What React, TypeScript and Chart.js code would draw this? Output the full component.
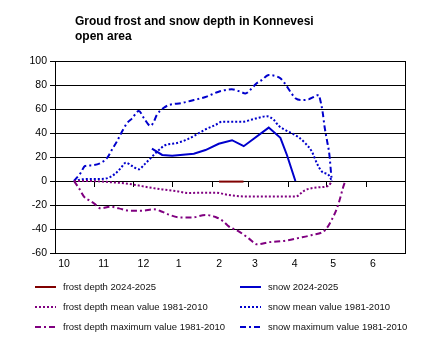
import React, { useEffect, useRef } from "react";
import { Chart, registerables } from "chart.js";

Chart.register(...registerables);

// x values are days counted from 1 October 2024
const TITLE_LINES = ["Groud frost and snow depth in Konnevesi", "open area"];
const MONTH_LABELS = ["10", "11", "12", "1", "2", "3", "4", "5", "6"];
const MONTH_LABEL_DAYS = [7, 38, 69, 96.5, 128, 156, 187, 217, 248];
const MONTH_START_DAYS = [0, 31, 61, 92, 123, 151, 182, 212, 243, 273];

const frostNowDay = [128, 133, 138, 143, 147];
const frostNowDepth = [-0.5, -0.5, -0.5, -0.5, -0.5];

const snowNowDay = [75.6, 83.6, 91.4, 108.3, 117.4, 127.7, 138.1, 147.2, 166.7, 175.8, 180.9, 187.5];
const snowNowDepth = [27, 21.7, 21, 22.8, 25.8, 31, 34, 29, 44.5, 36, 21.7, 0];

const frostMeanDay = [14.8, 29, 36.8, 43.4, 55.1, 62.9, 73.2, 83.6, 94, 104.4, 114.7, 125.2, 135.5, 151.1, 164.1, 187.5, 195.3, 205.6, 213.4, 216];
const frostMeanDepth = [0, 0, -0.5, -1, -2, -3.3, -5.3, -7, -8.3, -10, -9.7, -9.7, -11.7, -13, -13, -13, -7.5, -5.3, -4, 0];

const snowMeanDay = [14.8, 21.3, 29, 35.6, 42.1, 47.3, 51.2, 55.3, 60.2, 65.4, 69.3, 74.5, 81, 86.2, 94, 101.8, 109.6, 117.4, 125.2, 130.3, 145.9, 156.3, 165.3, 170.6, 174.5, 179.7, 184.8, 190, 195.3, 200.4, 204.3, 208.2, 213.4, 216];
const snowMeanDepth = [0, 1.4, 1.7, 1.7, 2.8, 6.4, 10.6, 15.3, 12.5, 9.7, 13.3, 19, 25.8, 30, 31.4, 34, 38.3, 43, 46.7, 49.4, 49.4, 52, 54, 51, 46, 42.5, 39.7, 36.4, 31.4, 24.4, 14.7, 7.8, 5, 0];

const frostMaxDay = [14.8, 18.7, 22.6, 26.5, 30.4, 35.6, 43.4, 49.8, 57.6, 68, 77.1, 83.6, 88.8, 96.6, 106.9, 117.4, 125.2, 131.6, 135.5, 143.3, 151.1, 157.6, 166.7, 179.7, 190, 200.4, 210.8, 216, 219.9, 222.5, 224.5, 226.4];
const frostMaxDepth = [0, -6, -13, -16, -18.6, -22.8, -21.4, -22.8, -24.7, -24.7, -23.6, -25.6, -28, -30.3, -30.4, -28.3, -30, -33.9, -37.8, -42, -47.8, -52.8, -51, -49.7, -47.5, -45, -40.8, -32, -22.8, -14, -6, 0];

const snowMaxDay = [14.8, 20, 23.4, 27.8, 35.6, 40.5, 44.4, 48.3, 52.2, 56.1, 60, 65.4, 69.3, 74.5, 77.1, 79.4, 84.9, 88.8, 98.9, 108.3, 117.4, 127.7, 137.9, 144.6, 148.5, 152.4, 157.3, 161.2, 166.7, 171.9, 175.8, 179.1, 183.6, 187.5, 192.4, 197.8, 201.7, 205.6, 206.9, 208.7, 210.3, 212.1, 213.9, 215.7, 216];
const snowMaxDepth = [0, 6.7, 12.5, 13, 15, 19, 26, 33, 41, 48, 52, 58.3, 52.5, 46, 49.4, 55, 61, 63.3, 65, 67.5, 70, 74.4, 76.4, 74.4, 73, 76, 81.5, 84, 88.3, 87.5, 85.6, 81.5, 74.4, 69, 67.5, 68, 70, 71.7, 67.5, 57.8, 45, 34, 23, 2.5, 0];

const pts = (xs: number[], ys: number[]) => xs.map((x, i) => ({ x, y: ys[i] }));

const FONT = '"Liberation Sans", Arial, sans-serif';
const DASH_DOT = [6, 3, 2, 3];
const DOT = [2, 2];

const titlePlugin = {
  id: "leftTitle",
  afterDraw(chart: any) {
    const ctx = chart.ctx;
    ctx.save();
    ctx.fillStyle = "#000";
    ctx.font = `bold 12px ${FONT}`;
    ctx.textBaseline = "alphabetic";
    ctx.textAlign = "left";
    ctx.fillText(TITLE_LINES[0], 75, 25);
    ctx.fillText(TITLE_LINES[1], 75, 40);
    ctx.restore();
  },
};

const legendPlugin = {
  id: "gridLegend",
  afterDraw(chart: any) {
    const ctx = chart.ctx;
    const colX = [35, 240];
    const rowY = [287, 307, 327];
    chart.data.datasets.forEach((ds: any, i: number) => {
      const x0 = colX[i % 2];
      const y = rowY[Math.floor(i / 2)];
      ctx.save();
      ctx.strokeStyle = ds.borderColor;
      ctx.lineWidth = 2;
      ctx.setLineDash(ds.borderDash || []);
      ctx.beginPath();
      ctx.moveTo(x0, y);
      ctx.lineTo(x0 + 21, y);
      ctx.stroke();
      ctx.setLineDash([]);
      ctx.fillStyle = "#111";
      ctx.font = `9.5px ${FONT}`;
      ctx.textBaseline = "middle";
      ctx.textAlign = "left";
      ctx.fillText(ds.label, x0 + 28, y);
      ctx.restore();
    });
  },
};

export default function App() {
  const ref = useRef<HTMLCanvasElement | null>(null);
  useEffect(() => {
    if (!ref.current) return;
    const common = {
      pointRadius: 0,
      pointHoverRadius: 0,
      borderWidth: 2,
      fill: false,
      xAxisID: "x",
      yAxisID: "y",
    };
    const chart = new Chart(ref.current, {
      type: "line",
      data: {
        datasets: [
          { ...common, label: "frost depth 2024-2025", data: pts(frostNowDay, frostNowDepth), borderColor: "#800000", tension: 0 },
          { ...common, label: "snow 2024-2025", data: pts(snowNowDay, snowNowDepth), borderColor: "#0000cc", tension: 0 },
          { ...common, label: "frost depth mean value 1981-2010", data: pts(frostMeanDay, frostMeanDepth), borderColor: "#800080", borderDash: DOT, cubicInterpolationMode: "monotone" },
          { ...common, label: "snow mean value 1981-2010", data: pts(snowMeanDay, snowMeanDepth), borderColor: "#0000cc", borderDash: DOT, cubicInterpolationMode: "monotone" },
          { ...common, label: "frost depth maximum value 1981-2010", data: pts(frostMaxDay, frostMaxDepth), borderColor: "#800080", borderDash: DASH_DOT, cubicInterpolationMode: "monotone" },
          { ...common, label: "snow maximum value 1981-2010", data: pts(snowMaxDay, snowMaxDepth), borderColor: "#0000cc", borderDash: DASH_DOT, cubicInterpolationMode: "monotone" },
        ],
      } as any,
      options: {
        animation: false,
        responsive: false,
        events: [],
        layout: { padding: { left: 0, top: 61, right: 25, bottom: 79 } },
        plugins: { legend: { display: false }, title: { display: false }, tooltip: { enabled: false } },
        scales: {
          x: {
            type: "linear",
            min: 0,
            max: 273,
            position: { y: 0 } as any,
            afterBuildTicks: (s: any) => { s.ticks = MONTH_START_DAYS.map((v) => ({ value: v })); },
            grid: { drawOnChartArea: false, drawTicks: true, tickLength: 5, color: "#000", lineWidth: 1 },
            border: { display: true, color: "#000", width: 1 },
            ticks: { display: false },
          },
          xl: {
            type: "linear",
            min: 0,
            max: 273,
            position: "bottom",
            afterBuildTicks: (s: any) => { s.ticks = MONTH_LABEL_DAYS.map((v) => ({ value: v })); },
            afterFit: (s: any) => { s.height = 20; },
            grid: { display: false, drawTicks: false },
            border: { display: false },
            ticks: {
              autoSkip: false,
              maxRotation: 0,
              padding: 5,
              color: "#000",
              font: { family: FONT, size: 10.5 },
              callback: (_v: any, i: number) => MONTH_LABELS[i],
            },
          },
          y: {
            type: "linear",
            min: -60,
            max: 100,
            position: "left",
            afterFit: (s: any) => { s.width = 55; },
            grid: { color: "#000", lineWidth: 1, tickLength: 5, drawTicks: true },
            border: { display: true, color: "#000", width: 1 },
            ticks: { stepSize: 20, padding: 3, color: "#000", font: { family: FONT, size: 10.5 } },
          },
          yr: {
            type: "linear",
            min: -60,
            max: 100,
            position: "right",
            afterFit: (s: any) => { s.width = 0; },
            grid: { drawOnChartArea: false, drawTicks: false },
            border: { display: true, color: "#000", width: 1 },
            ticks: { display: false },
          },
        },
      } as any,
      plugins: [titlePlugin, legendPlugin],
    });
    return () => chart.destroy();
  }, []);
  return (
    <div style={{ position: "fixed", left: 0, top: 0, width: 430, height: 352, background: "#fff" }}>
      <canvas ref={ref} width={430} height={352} style={{ display: "block" }} />
    </div>
  );
}
